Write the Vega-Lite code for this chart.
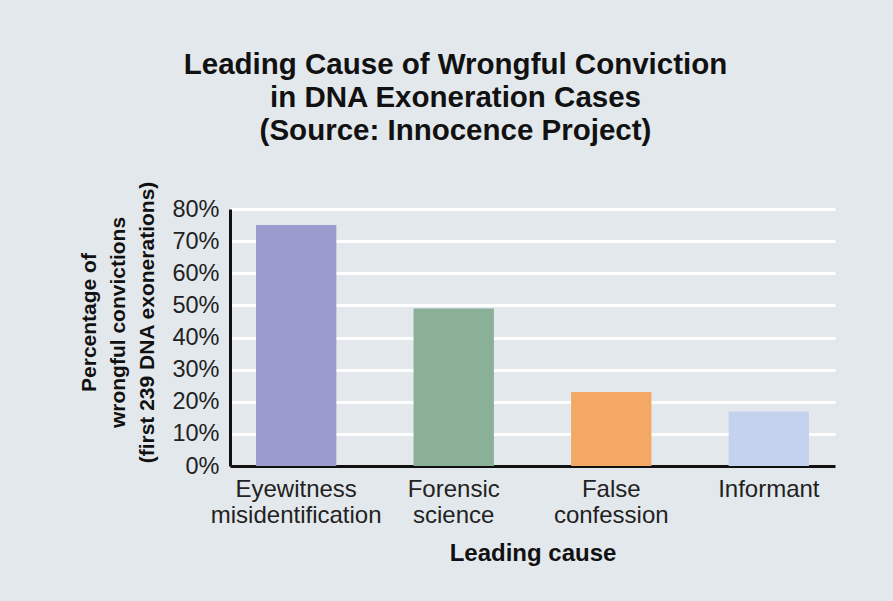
{
  "$schema": "https://vega.github.io/schema/vega-lite/v6.json",
  "width": 605,
  "height": 257,
  "autosize": {"type": "none"},
  "padding": {"left": 230, "top": 209, "right": 58, "bottom": 135},
  "background": "#e3e8ec",
  "title": {
    "text": ["Leading Cause of Wrongful Conviction", "in DNA Exoneration Cases", "(Source: Innocence Project)"],
    "font": "Liberation Sans",
    "fontSize": 29.5,
    "fontWeight": "bold",
    "lineHeight": 33,
    "color": "#111111",
    "anchor": "middle",
    "dx": -77,
    "offset": 34
  },
  "data": {
    "values": [
      {"cause": "Eyewitness misidentification", "pct": 0.75},
      {"cause": "Forensic science", "pct": 0.49},
      {"cause": "False confession", "pct": 0.23},
      {"cause": "Informant", "pct": 0.17}
    ]
  },
  "mark": {"type": "bar"},
  "encoding": {
    "x": {
      "field": "cause",
      "type": "nominal",
      "sort": null,
      "title": "Leading cause",
      "scale": {"paddingInner": 0.49, "paddingOuter": 0.165},
      "axis": {
        "labelAngle": 0,
        "labelExpr": "split(datum.value, ' ')",
        "labelFont": "Liberation Sans",
        "labelFontSize": 24,
        "labelLineHeight": 26,
        "labelColor": "#222222",
        "labelPadding": 11,
        "ticks": false,
        "domainColor": "#111111",
        "domainWidth": 3,
        "titleFont": "Liberation Sans",
        "titleFontSize": 24,
        "titleFontWeight": "bold",
        "titleColor": "#111111",
        "titlePadding": 14
      }
    },
    "y": {
      "field": "pct",
      "type": "quantitative",
      "title": ["Percentage of", "wrongful convictions", "(first 239 DNA exonerations)"],
      "scale": {"domain": [0, 0.8], "nice": false},
      "axis": {
        "format": ".0%",
        "values": [0, 0.1, 0.2, 0.3, 0.4, 0.5, 0.6, 0.7, 0.8],
        "labelFont": "Liberation Sans",
        "labelFontSize": 23.5,
        "labelColor": "#222222",
        "labelPadding": 11,
        "ticks": false,
        "domainColor": "#111111",
        "domainWidth": 3,
        "grid": true,
        "gridColor": "#ffffff",
        "gridWidth": 3,
        "titleFont": "Liberation Sans",
        "titleFontSize": 21,
        "titleFontWeight": "bold",
        "titleColor": "#111111",
        "titleLineHeight": 29,
        "titlePadding": 14,
        "titleY": 113
      }
    },
    "color": {
      "field": "cause",
      "type": "nominal",
      "sort": null,
      "legend": null,
      "scale": {
        "domain": ["Eyewitness misidentification", "Forensic science", "False confession", "Informant"],
        "range": ["#9b9bcd", "#8ab098", "#f3a866", "#c5d2ee"]
      }
    }
  },
  "config": {
    "view": {"stroke": null}
  }
}
